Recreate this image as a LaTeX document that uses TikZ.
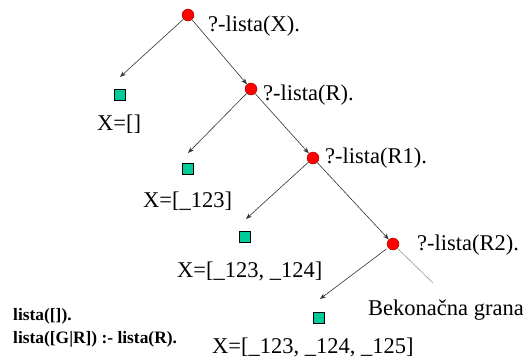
\documentclass[tikz,border=0pt]{standalone}
\usepackage{fontspec}
\setmainfont{Liberation Serif}
\usetikzlibrary{arrows.meta}
\definecolor{leafgreen}{RGB}{0,204,153}
\definecolor{goalred}{RGB}{255,0,0}
\begin{document}
\begin{tikzpicture}[x=1pt,y=-1pt,
  goal/.style={circle,fill=goalred,draw=red!60!black,line width=0.4pt,minimum size=12pt,inner sep=0pt},
  leaf/.style={rectangle,fill=leafgreen,draw=black,line width=0.5pt,minimum size=11pt,inner sep=0pt},
  lbl/.style={anchor=base west,inner sep=0pt,font=\fontsize{22.5}{24}\selectfont},
  code/.style={anchor=base west,inner sep=0pt,font=\fontsize{17.4}{19}\selectfont\bfseries},
  arr/.style={draw=black!80,line width=0.6pt,-{Stealth[length=6pt,width=4.5pt]}},
  endless/.style={draw=black!40,line width=0.6pt}]
\useasboundingbox (0,0) rectangle (523,362);
% goals
\node[goal] (g0) at (188,15) {};
\node[goal] (g1) at (251,89) {};
\node[goal] (g2) at (313,158) {};
\node[goal] (g3) at (393,244) {};
% leaves
\node[leaf] (s0) at (120,95) {};
\node[leaf] (s1) at (188,169) {};
\node[leaf] (s2) at (245,237) {};
\node[leaf] (s3) at (319,318) {};
% arrow tips above leaves
\coordinate (t0) at (120,77);
\coordinate (t1) at (188,153);
\coordinate (t2) at (246,219);
\coordinate (t3) at (320,299);
\coordinate (inf) at (433,283);
% connectors
\draw[arr] (g0) -- (t0);
\draw[arr] (g0) -- (g1);
\draw[arr] (g1) -- (t1);
\draw[arr] (g1) -- (g2);
\draw[arr] (g2) -- (t2);
\draw[arr] (g2) -- (g3);
\draw[arr,shorten <=2pt] (g3) -- (t3);
\draw[endless] (g3) -- (inf);
% labels
\node[lbl] (q0) at (208,31) {?-lista(X).};
\node[lbl] (q1) at (263,100) {?-lista(R).};
\node[lbl] (q2) at (325,163) {?-lista(R1).};
\node[lbl] (q3) at (417,250) {?-lista(R2).};
\node[lbl] (a0) at (97,130) {X=[]};
\node[lbl] (a1) at (143,207) {X=[\_123]};
\node[lbl] (a2) at (177,277) {X=[\_123, \_124]};
\node[lbl] (a3) at (212,353) {X=[\_123, \_124, \_125]};
\node[lbl] (bg) at (368,315) {Bekonačna grana};
\node[code] (c0) at (13,320) {lista([]).};
\node[code] (c1) at (13,343) {lista([G|R]) :- lista(R).};
\end{tikzpicture}
\end{document}
